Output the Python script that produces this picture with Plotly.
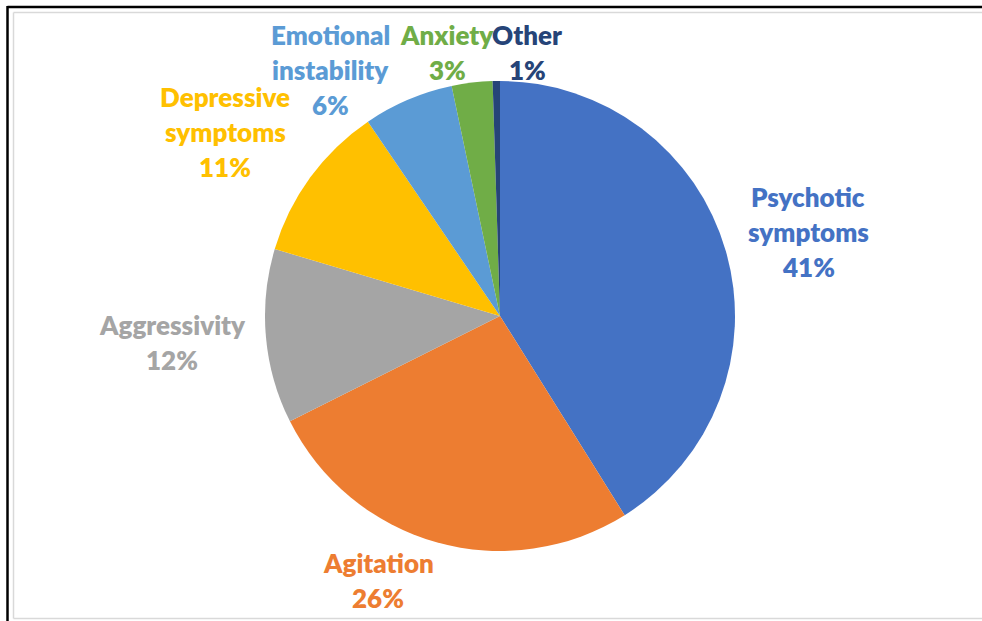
import plotly.graph_objects as go

W, H = 982, 621

categories = ["Psychotic symptoms", "Agitation", "Aggressivity", "Depressive symptoms",
              "Emotional instability", "Anxiety", "Other"]
values = [41.1, 26.5, 12.0, 10.9, 6.2, 2.8, 0.5]
pct_labels = ["41%", "26%", "12%", "11%", "6%", "3%", "1%"]
colors = ["#4472C4", "#ED7D31", "#A5A5A5", "#FFC000", "#5B9BD5", "#70AD47", "#264478"]
label_lines = [["Psychotic", "symptoms"], ["Agitation"], ["Aggressivity"],
               ["Depressive", "symptoms"], ["Emotional", "instability"], ["Anxiety"], ["Other"]]
# label anchor (center x, first-line center y) in pixels
label_pos = [(808, 197), (378, 563), (172, 325), (225, 97), (330, 35), (447, 35), (527, 35)]
line_gap = 35

cx, cy, r = 500, 316, 235

fig = go.Figure(go.Pie(
    labels=categories, values=values, sort=False, direction="clockwise", rotation=0,
    marker=dict(colors=colors, line=dict(width=0)),
    textinfo="none", hoverinfo="label+percent", showlegend=False,
    domain=dict(x=[(cx - r) / W, (cx + r) / W], y=[1 - (cy + r) / H, 1 - (cy - r) / H]),
))

annotations = []
for lines, p, col, (x, y) in zip(label_lines, pct_labels, colors, label_pos):
    for i, t in enumerate(lines + [p]):
        annotations.append(dict(
            x=x / W, y=1 - (y + i * line_gap) / H, xref="paper", yref="paper",
            text=t, showarrow=False, xanchor="center", yanchor="middle",
            font=dict(family="Lato", size=26, color=col, weight=800)))

shapes = [
    dict(type="line", xref="paper", yref="paper", x0=7.5 / W, x1=1, y0=1 - 7 / H, y1=1 - 7 / H,
         line=dict(color="black", width=2.5)),
    dict(type="line", xref="paper", yref="paper", x0=7.5 / W, x1=7.5 / W, y0=0, y1=1 - 6 / H,
         line=dict(color="black", width=2.5)),
    dict(type="line", xref="paper", yref="paper", x0=13.5 / W, x1=1, y0=1 - 12.5 / H, y1=1 - 12.5 / H,
         line=dict(color="#D9D9D9", width=1.5)),
    dict(type="line", xref="paper", yref="paper", x0=13.5 / W, x1=13.5 / W, y0=1 - 618.5 / H, y1=1 - 12.5 / H,
         line=dict(color="#D9D9D9", width=1.5)),
    dict(type="line", xref="paper", yref="paper", x0=13.5 / W, x1=1, y0=1 - 618.5 / H, y1=1 - 618.5 / H,
         line=dict(color="#D9D9D9", width=1.5)),
]

fig.update_layout(
    width=W, height=H, margin=dict(l=0, r=0, t=0, b=0),
    paper_bgcolor="white", plot_bgcolor="white",
    annotations=annotations, shapes=shapes,
)

fig.write_html("out.html", config={"displayModeBar": False},
               post_script="document.body.style.margin='0';document.body.style.overflow='hidden';")
